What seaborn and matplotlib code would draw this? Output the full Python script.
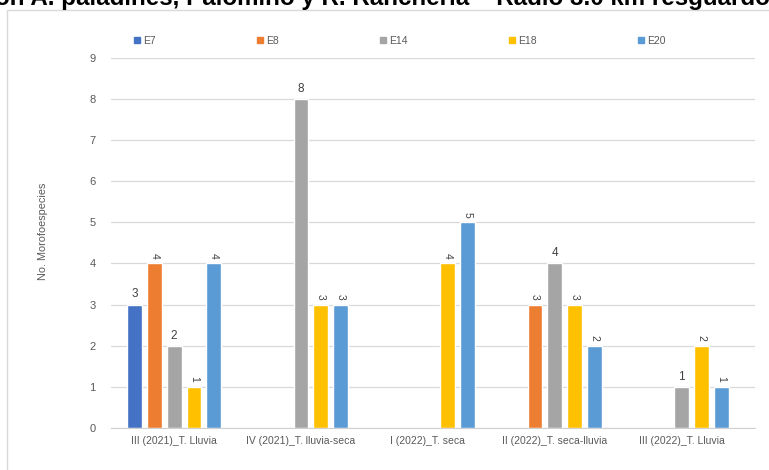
import numpy as np
import pandas as pd
import seaborn as sns
import matplotlib.pyplot as plt
from matplotlib.patches import Rectangle

# categories / series (NaN = no bar)
periods = ["III (2021)_T. Lluvia", "IV (2021)_T. lluvia-seca", "I (2022)_T. seca",
           "II (2022)_T. seca-lluvia", "III (2022)_T. Lluvia"]
stations = ["E7", "E8", "E14", "E18", "E20"]
e7 = [3, np.nan, np.nan, np.nan, np.nan]
e8 = [4, np.nan, np.nan, 3, np.nan]
e14 = [2, 8, np.nan, 4, 1]
e18 = [1, 3, 4, 3, 2]
e20 = [4, 3, 5, 2, 1]
y_ticks = [0, 1, 2, 3, 4, 5, 6, 7, 8, 9]

colors = ["#4472C4", "#ED7D31", "#A5A5A5", "#FFC000", "#5B9BD5"]
# Excel drew some of the data labels sideways
rotated = {"E7": False, "E8": True, "E14": False, "E18": True, "E20": True}

title = "ón A. paladines, Palomino y R. Ranchería – Radio 3.0 km resguardo"


def build_frame() -> pd.DataFrame:
    cols = {"E7": e7, "E8": e8, "E14": e14, "E18": e18, "E20": e20}
    rows = []
    for st in stations:
        for per, v in zip(periods, cols[st]):
            rows.append({"Periodo": per, "Estacion": st, "Valor": v})
    return pd.DataFrame(rows)


def main():
    df = build_frame()
    sns.set_style("white")
    plt.rcParams["font.family"] = ["Liberation Sans", "DejaVu Sans"]

    fig = plt.figure(figsize=(7.69, 4.70), dpi=100)
    ax = fig.add_axes([0.144, 0.0894, 0.838, 0.7876])

    sns.barplot(data=df.dropna(), x="Periodo", y="Valor", hue="Estacion",
                order=periods, hue_order=stations, palette=colors,
                errorbar=None, width=0.78, gap=0.25, saturation=1, ax=ax)

    for st, cont in zip(stations, ax.containers):
        for p in cont.patches:
            h = p.get_height()
            if np.isnan(h):
                continue
            xc = p.get_x() + p.get_width() / 2
            if rotated[st]:
                ax.text(xc, h + 0.12, f"{h:.0f}", rotation=-90, ha="center", va="bottom",
                        fontsize=7.5, color="#404040")
            else:
                ax.text(xc, h + 0.1, f"{h:.0f}", ha="center", va="bottom",
                        fontsize=8.5, color="#404040")

    ax.set_ylim(0, 9)
    ax.set_xlim(-0.5, len(periods) - 0.42)
    ax.set_yticks(y_ticks)
    ax.yaxis.grid(True, color="#D9D9D9", linewidth=0.9)
    ax.set_axisbelow(True)
    for side in ["top", "right", "left"]:
        ax.spines[side].set_visible(False)
    ax.spines["bottom"].set_color("#D0D0D0")
    ax.tick_params(axis="both", length=0, colors="#595959", labelsize=7.5)
    ax.tick_params(axis="y", labelsize=8, pad=11)
    ax.tick_params(axis="x", pad=6)
    ax.set_xlabel("")
    ax.set_ylabel("No. Morofoespecies", fontsize=7.8, color="#595959")
    ax.yaxis.set_label_coords(-0.097, 0.532)

    ax.get_legend().remove()
    handles = [Rectangle((0, 0), 1, 1, color=c) for c in colors]
    fig.legend(handles, stations, loc="center", bbox_to_anchor=(0.52, 0.913), ncol=5,
               frameon=False, fontsize=7.5, handlelength=0.55, handleheight=0.55,
               handletextpad=0.35, columnspacing=9.7, labelcolor="#595959")

    # chart area border of the original, partly off the picture
    fig.patches.append(Rectangle((7 / 769, -0.1), 1.2, 1 - 10 / 470 + 0.1,
                                 transform=fig.transFigure, fill=False,
                                 edgecolor="#D9D9D9", linewidth=1.0))

    # cropped title at the very top (the reference only shows its lower part)
    fig.text(0.497, 1 - 5 / 470, title, ha="center", va="baseline",
             fontsize=17.4, fontweight="bold", color="black")

    fig.savefig("out.png", dpi=100)
    plt.close(fig)


if __name__ == "__main__":
    main()
